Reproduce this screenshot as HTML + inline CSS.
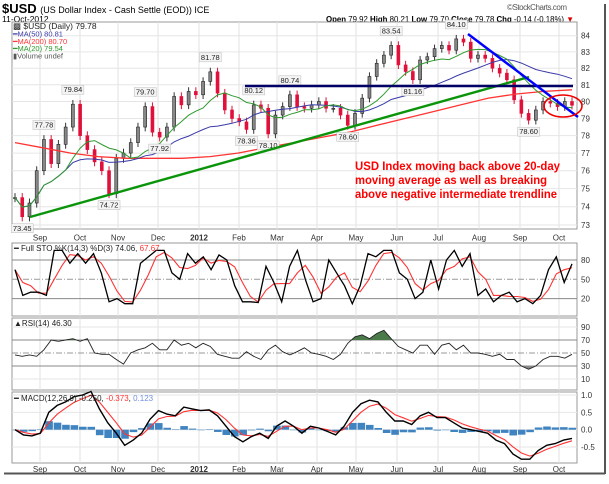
<!DOCTYPE html>
<html><head><meta charset="utf-8"><style>
body{margin:0;background:#fff;width:609px;height:479px;overflow:hidden;font-family:"Liberation Sans",sans-serif}
svg text{font-family:"Liberation Sans",sans-serif}
</style></head><body>
<svg id="c" width="609" height="479" viewBox="0 0 609 479" xmlns="http://www.w3.org/2000/svg">
<defs>
<clipPath id="above70"><rect x="12" y="318" width="566" height="22"/></clipPath>
<clipPath id="below30"><rect x="12" y="366" width="566" height="24"/></clipPath>
</defs>
<rect x="0" y="0" width="609" height="479" fill="#fff"/>
<line x1="605" y1="4" x2="605" y2="474" stroke="#555" stroke-width="2"/>
<line x1="4" y1="473.5" x2="605" y2="473.5" stroke="#555" stroke-width="2"/>
<g>
<text x="2" y="13" font-size="13" font-weight="bold">$USD <tspan font-size="9" font-weight="normal">(US Dollar Index - Cash Settle (EOD)) ICE</tspan></text>
<text x="2" y="22" font-size="8.5">11-Oct-2012</text>
<text x="507" y="10" font-size="8" fill="#555" textLength="60">©StockCharts.com</text>
<text x="326" y="22" font-size="8" textLength="248" lengthAdjust="spacingAndGlyphs"><tspan font-weight="bold">Open</tspan> 79.92 <tspan font-weight="bold">High</tspan> 80.21 <tspan font-weight="bold">Low</tspan> 79.70 <tspan font-weight="bold">Close</tspan> 79.78 <tspan font-weight="bold">Chg</tspan> -0.14 (-0.18%) <tspan fill="#d00">▼</tspan></text>
</g>
<g id="grid"></g>
<g id="marks"></g>
<g id="ann"></g>
</svg>
<script>
// ---- data ----
const monthLabels=["Sep","Oct","Nov","Dec","2012","Feb","Mar","Apr","May","Jun","Jul","Aug","Sep","Oct"];
const priceTicks=[73,74,75,76,77,78,79,80,81,82,83,84];
const closes=[74.5,73.45,74.2,76,77.78,76.4,77.5,78.5,79.84,78,77.2,76.5,76,74.72,76.7,77,77.6,78.5,79.7,78.2,77.92,78.5,80.3,79.8,80.6,80.4,81.2,81.78,80.5,79.5,79,78.8,78.36,79.8,79.6,78.1,79.2,79.7,80.4,79.7,79.6,79.8,80,79.6,79.6,79.2,78.6,79.3,80.2,81.5,82.3,82.8,83.4,82.2,81.8,81.3,82.5,82.7,83.2,83.4,83.1,83.8,83.6,82.6,82.8,82.6,82,81.7,81.3,80.1,79.3,78.9,79.5,80,79.9,79.7,80,79.78];
const ma200=[77.6,77.3,77.0,76.8,76.7,76.7,76.7,76.8,77.0,77.3,77.6,77.9,78.2,78.6,79.0,79.4,79.8,80.2,80.45,80.6,80.7];
const callouts=[["73.45",1,0],["77.78",4,1],["79.84",8,1],["74.72",13,0],["79.70",18,1],["77.92",20,0],["81.78",27,1],["80.12",33,1],["78.36",32,0],["78.10",35,0],["80.74",38,1],["78.60",46,0],["83.54",52,1],["81.16",55,0],["84.10",61,1],["78.60",71,0]];
const stoK=[65,25,30,30,25,95,95,75,90,75,90,60,15,20,12,12,75,85,95,95,60,50,90,75,85,65,88,80,40,15,15,14,70,45,15,70,95,50,15,20,80,60,40,12,40,90,85,95,95,60,50,20,30,80,35,80,95,70,90,25,35,15,25,30,15,20,12,25,65,85,45,74];
const rsi=[47,45,47,45,55,70,68,70,72,68,72,50,48,48,40,33,50,55,58,65,55,55,70,62,65,58,65,60,48,45,42,42,52,45,40,55,62,52,47,52,58,50,48,45,40,48,65,75,78,72,80,85,72,60,55,50,62,62,48,62,65,55,62,50,50,48,45,48,40,40,30,25,30,40,45,45,42,48];
const macd=[0,-0.15,-0.18,-0.1,0.5,0.7,0.8,0.95,1.0,1.1,0.6,0.2,-0.1,-0.45,-0.3,-0.1,0.3,0.55,0.45,0.4,0.65,0.6,0.55,0.57,0.4,0.1,-0.2,-0.35,-0.2,-0.1,-0.25,0.1,0.25,0.1,-0.1,0.1,0.05,-0.05,-0.15,0.1,0.5,0.75,0.85,0.8,0.5,0.25,0.25,0.15,0.4,0.5,0.35,0.35,0.2,0.05,0,-0.05,-0.1,-0.3,-0.4,-0.7,-0.85,-0.85,-0.6,-0.45,-0.4,-0.3,-0.25];

// ---- layout ----
const X0=12,X1=577;
const monthX=[40,80,118,158,199,239,277,317,356,397,438,479,520,559];
const P={top:22,bot:229}, S={top:243,bot:316}, R={top:318,bot:390}, M={top:392,bot:463};
const py=v=>35.7+(Math.log(84)-Math.log(v))*1349;
const sy=v=>298.6-(v-20)*(38.6/60);
const ry=v=>366-(v-30)*0.65;
const my=v=>429.7-v*34.7;
const xs=(i,n)=>X0+3+i*(X1-X0-8)/(n-1);
const NS="http://www.w3.org/2000/svg";
function el(tag,attrs,parent,txt){const e=document.createElementNS(NS,tag);for(const k in attrs)e.setAttribute(k,attrs[k]);if(txt!==undefined)e.textContent=txt;(parent||document.getElementById('marks')).appendChild(e);return e;}
const grid=document.getElementById('grid'), ann=document.getElementById('ann');

[[P,'price-panel'],[S,'stochastic-panel'],[R,'rsi-panel'],[M,'macd-panel']].forEach(([p,n])=>{
  const r=el('rect',{x:X0,y:p.top,width:X1-X0,height:p.bot-p.top,fill:'#fff',stroke:'#999','stroke-width':1},grid);
  
  
  monthX.forEach(x=>el('line',{x1:x,y1:p.top,x2:x,y2:p.bot,stroke:'#e2e2e2'},grid));
});
priceTicks.forEach(v=>{el('line',{x1:X0,y1:py(v),x2:X1,y2:py(v),stroke:'#e6e6e6'},grid);
  const t=el('text',{x:581,y:py(v)+3,'font-size':8,fill:'#333'},grid,String(v));
  
  });
[237.7,469].forEach(y=>monthLabels.forEach((m,i)=>{const t=el('text',{x:monthX[i],y:y+3,'font-size':8,'text-anchor':'middle','font-weight':m==='2012'?'bold':'normal',fill:'#333'},grid,m);
  
  }));
[[80,'s'],[50,'d'],[20,'s']].forEach(([v,k])=>{el('line',{x1:X0,y1:sy(v),x2:X1,y2:sy(v),stroke:k==='s'?'#888':'#999','stroke-dasharray':k==='d'?'6 2 1 2':'none'},grid);el('text',{x:581,y:sy(v)+3,'font-size':8,fill:'#333'},grid,String(v));});
[90,70,50,30,10].forEach(v=>{const k=(v===70||v===30)?'s':(v===50?'d':'g');el('line',{x1:X0,y1:ry(v),x2:X1,y2:ry(v),stroke:k==='s'?'#888':(k==='d'?'#999':'#e6e6e6'),'stroke-dasharray':k==='d'?'6 2 1 2':'none'},grid);el('text',{x:581,y:ry(v)+3,'font-size':8,fill:'#333'},grid,String(v));});
[[1.0,'1.0'],[0.5,'0.5'],[0,'0.0'],[-0.5,'-0.5']].forEach(([v,l])=>{el('line',{x1:X0,y1:my(v),x2:X1,y2:my(v),stroke:'#e6e6e6'},grid);el('text',{x:581,y:my(v)+3,'font-size':8,fill:'#333'},grid,l);});

function path(vals,fx,fy,attrs,name){const n=vals.length;const d=vals.map((v,i)=>(i?'L':'M')+fx(i,n).toFixed(1)+' '+fy(v).toFixed(1)).join(' ');const p=el('path',Object.assign({d,fill:'none'},attrs));return p;}
function sma(a,w){return a.map((_,i)=>{const s=a.slice(Math.max(0,i-w+1),i+1);return s.reduce((x,y)=>x+y,0)/s.length;});}
function ema(a,w){const k=2/(w+1);let e=a[0];return a.map(v=>e=e+k*(v-e));}

const n=closes.length;
closes.forEach((c,i)=>{const o=i?closes[i-1]:c;const x=xs(i,n);const up=c>=o;const hi=Math.max(o,c)+0.25,lo=Math.min(o,c)-0.25;
  const w=el('line',{x1:x,y1:py(hi),x2:x,y2:py(lo),stroke:up?'#333':'#e0103a','stroke-width':1});
  
  
  const b=el('rect',{x:x-1.5,y:py(Math.max(o,c)),width:3,height:Math.max(1,py(Math.min(o,c))-py(Math.max(o,c))),fill:up?'#888':'#e0103a',stroke:up?'#222':'#e0103a','stroke-width':0.6});
  
  });
path(ma200,(i,m)=>X0+3+i*(X1-X0-8)/(m-1),py,{stroke:'#ff3333','stroke-width':1.3},'ma200-line');
path(sma(closes,20),xs,py,{stroke:'#3a3aa8','stroke-width':1},'ma50-line');
path(sma(closes,8),xs,py,{stroke:'#2e9a2e','stroke-width':1},'ma20-line');

callouts.forEach(([l,i,hiFlag])=>{const x=xs(i,n);const v=closes[i];const y=hiFlag?py(v)-12:py(v)+14;
  el('rect',{x:x-11,y:y-7,width:22,height:9,fill:'#f4f4f4',stroke:'#bbb','stroke-width':0.5},ann);
  const t=el('text',{x:x,y:y,'font-size':7.5,'text-anchor':'middle',fill:'#222'},ann,l);
  
  });

const tl=(x1,y1,x2,y2,c,nm)=>{const l=el('line',{x1,y1,x2,y2,stroke:c,'stroke-width':2.4},ann);};
tl(30,217,529,77,'#0a940a','rising-trendline');
tl(245,86,573,86,'#000066','resistance-line');
tl(468,34,578,117,'#0000ff','falling-trendline');
const ell=el('ellipse',{cx:563,cy:106,rx:19,ry:11,fill:'none',stroke:'#e00','stroke-width':1.6},ann);


[["USD Index moving back above 20-day",205],["moving average as well as breaking",192],["above negative intermediate trendline",202]].forEach(([s,w],k)=>{const t=el('text',{x:355,y:170+k*14,'font-size':12,'font-weight':'bold',fill:'#ff0000',textLength:w,lengthAdjust:'spacingAndGlyphs'},ann,s);
  
  });

const lg=[["▩ $USD (Daily) 79.78","#222"],["━MA(50) 80.81","#3a3aa8"],["━MA(200) 80.70","#ff3333"],["━MA(20) 79.54","#2e9a2e"],["▮Volume undef","#555"]];
lg.forEach(([s,c],k)=>{const t=el('text',{x:13,y:29+k*7.4,'font-size':k?7.5:8.5,fill:c},ann,s);
  
  });

const stoD=sma(stoK,3);
path(stoD,xs,sy,{stroke:'#ff3333','stroke-width':1.1},'sto-d-line');
path(stoK,xs,sy,{stroke:'#000','stroke-width':1.3},'sto-k-line');
const st=el('text',{x:14,y:251,'font-size':8,fill:'#222'},ann);st.innerHTML='━ Full STO %K(14,3) %D(3) 74.06, <tspan fill="#ff3333">67.67</tspan>';



const rn=rsi.length;
const rpts=rsi.map((v,i)=>xs(i,rn).toFixed(1)+','+ry(v).toFixed(1)).join(' ');
const ag=el('polygon',{points:xs(0,rn)+','+ry(70)+' '+rpts+' '+xs(rn-1,rn)+','+ry(70),fill:'#4a7a4a','clip-path':'url(#above70)'});


const bg=el('polygon',{points:xs(0,rn)+','+ry(30)+' '+rpts+' '+xs(rn-1,rn)+','+ry(30),fill:'#888','clip-path':'url(#below30)'});


path(rsi,xs,ry,{stroke:'#222','stroke-width':0.9},'rsi-line');
const rt=el('text',{x:14,y:326,'font-size':8,fill:'#222'},ann,'▲RSI(14) 46.30');



const sig=ema(macd,3);
const mn=macd.length;
macd.forEach((v,i)=>{const h=v-sig[i];const y0=my(0),y1=my(h*0.8);const b=el('rect',{x:xs(i,mn)-3.5,y:Math.min(y0,y1),width:7.6,height:Math.max(0.5,Math.abs(y1-y0)),fill:'#3f84c0'});
  
  });
path(sig,xs,my,{stroke:'#ff3333','stroke-width':1.1},'macd-signal-line');
path(macd,xs,my,{stroke:'#000','stroke-width':1.4},'macd-line');
const mt=el('text',{x:14,y:401,'font-size':8,fill:'#222'},ann);mt.innerHTML='━ MACD(12,26,9) -0.250, <tspan fill="#ff3333">-0.373</tspan>, <tspan fill="#7090e0">0.123</tspan>';


</script>
</body></html>
